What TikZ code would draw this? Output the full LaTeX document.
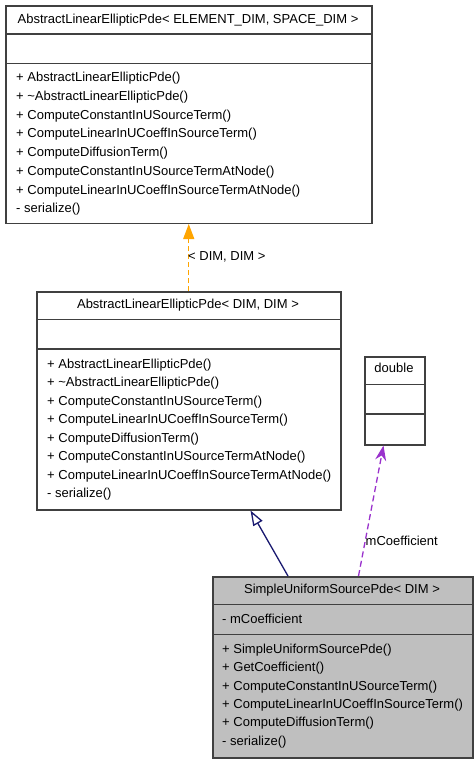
\documentclass[tikz,border=0pt]{standalone}
\usepackage{fontspec}
\setmainfont{Liberation Sans}
\usetikzlibrary{arrows.meta,calc,positioning}
\definecolor{boxline}{HTML}{404040}
\definecolor{usedcol}{HTML}{9A32CD}
\definecolor{tplcol}{HTML}{FFA500}
\definecolor{inhcol}{HTML}{191970}
\tikzset{
	classbox/.style={draw=boxline,line width=1.5pt,fill=white,inner sep=0pt,anchor=north west},
	sepline/.style={draw=boxline,line width=1.5pt},
	member/.style={anchor=base west,inner sep=0pt,font=\fontsize{13}{15}\selectfont},
	boxtitle/.style={anchor=base,inner sep=0pt,font=\fontsize{13}{15}\selectfont},
	edgelabel/.style={anchor=west,inner sep=0pt,font=\fontsize{13}{15}\selectfont}
}

\begin{document}
\begin{tikzpicture}[x=1pt,y=-1pt]
		\useasboundingbox[fill=white] (0,0) rectangle (476,763);
		
		% template base class
		\node[classbox,minimum width=366pt,minimum height=217.5pt] (base) at (5,5) {};
		\draw[sepline] (5,34) -- (371,34);
		\draw[sepline] (5,63.3) -- (371,63.3);
		\node[boxtitle] (btitle) at (188,23.6) {AbstractLinearEllipticPde< ELEMENT\_DIM, SPACE\_DIM >};
		\node[member] (b1) at (16,81.8) {+ AbstractLinearEllipticPde()};
		\node[member] (b2) at (16,100.5) {+ \textasciitilde AbstractLinearEllipticPde()};
		\node[member] (b3) at (16,119.2) {+ ComputeConstantInUSourceTerm()};
		\node[member] (b4) at (16,137.9) {+ ComputeLinearInUCoeffInSourceTerm()};
		\node[member] (b5) at (16,156.6) {+ ComputeDiffusionTerm()};
		\node[member] (b6) at (16,175.3) {+ ComputeConstantInUSourceTermAtNode()};
		\node[member] (b7) at (16,194.0) {+ ComputeLinearInUCoeffInSourceTermAtNode()};
		\node[member] (b8) at (16,212.7) {- serialize()};
		
		% instantiated class
		\node[classbox,minimum width=304pt,minimum height=218pt] (mid) at (36,291) {};
		\draw[sepline] (36,319.7) -- (340,319.7);
		\draw[sepline] (36,349) -- (340,349);
		\node[boxtitle] (mtitle) at (188,308.5) {AbstractLinearEllipticPde< DIM, DIM >};
		\node[member] (m1) at (47,368.2) {+ AbstractLinearEllipticPde()};
		\node[member] (m2) at (47,386.7) {+ \textasciitilde AbstractLinearEllipticPde()};
		\node[member] (m3) at (47,405.2) {+ ComputeConstantInUSourceTerm()};
		\node[member] (m4) at (47,423.7) {+ ComputeLinearInUCoeffInSourceTerm()};
		\node[member] (m5) at (47,442.2) {+ ComputeDiffusionTerm()};
		\node[member] (m6) at (47,460.7) {+ ComputeConstantInUSourceTermAtNode()};
		\node[member] (m7) at (47,479.2) {+ ComputeLinearInUCoeffInSourceTermAtNode()};
		\node[member] (m8) at (47,497.7) {- serialize()};
		
		% double
		\node[classbox,minimum width=60pt,minimum height=88pt] (dbl) at (364,356) {};
		\draw[sepline] (364,384.7) -- (424,384.7);
		\draw[sepline] (364,414) -- (424,414);
		\node[boxtitle] (dtitle) at (394,372.8) {double};
		
		% derived class
		\node[classbox,fill=black!25,minimum width=260pt,minimum height=181pt] (derived) at (212,576) {};
		\draw[sepline] (212,604.3) -- (472,604.3);
		\draw[sepline] (212,634.3) -- (472,634.3);
		\node[boxtitle] (stitle) at (342,593.5) {SimpleUniformSourcePde< DIM >};
		\node[member] (s0) at (222,623.5) {- mCoefficient};
		\node[member] (s1) at (222,653.2) {+ SimpleUniformSourcePde()};
		\node[member] (s2) at (222,671.6) {+ GetCoefficient()};
		\node[member] (s3) at (222,690.0) {+ ComputeConstantInUSourceTerm()};
		\node[member] (s4) at (222,708.4) {+ ComputeLinearInUCoeffInSourceTerm()};
		\node[member] (s5) at (222,726.8) {+ ComputeDiffusionTerm()};
		\node[member] (s6) at (222,745.2) {- serialize()};
		
		% connectors
		\draw[tplcol,line width=1.3pt,dash pattern=on 5pt off 3pt,-{Triangle[length=15pt,width=11pt]}] (mid.north) -- (mid.north |- base.south);
		\node[edgelabel] (tlabel) at (188,257) {< DIM, DIM >};
		
		\draw[inhcol,line width=1.3pt,-{Triangle[open,length=15pt,width=10.5pt]}] ($(derived.north west)+(76,0)$) -- ($(mid.south west)+(214.5,0)$);
		
		\draw[usedcol,line width=1.3pt,dash pattern=on 6pt off 3.5pt,-{Stealth[length=15pt,width=11pt]}] ($(derived.north west)+(146.5,0)$) -- ($(dbl.south west)+(19.5,0)$);
		\node[edgelabel] (ulabel) at (365.5,541) {mCoefficient};
	\end{tikzpicture}
\end{document}
